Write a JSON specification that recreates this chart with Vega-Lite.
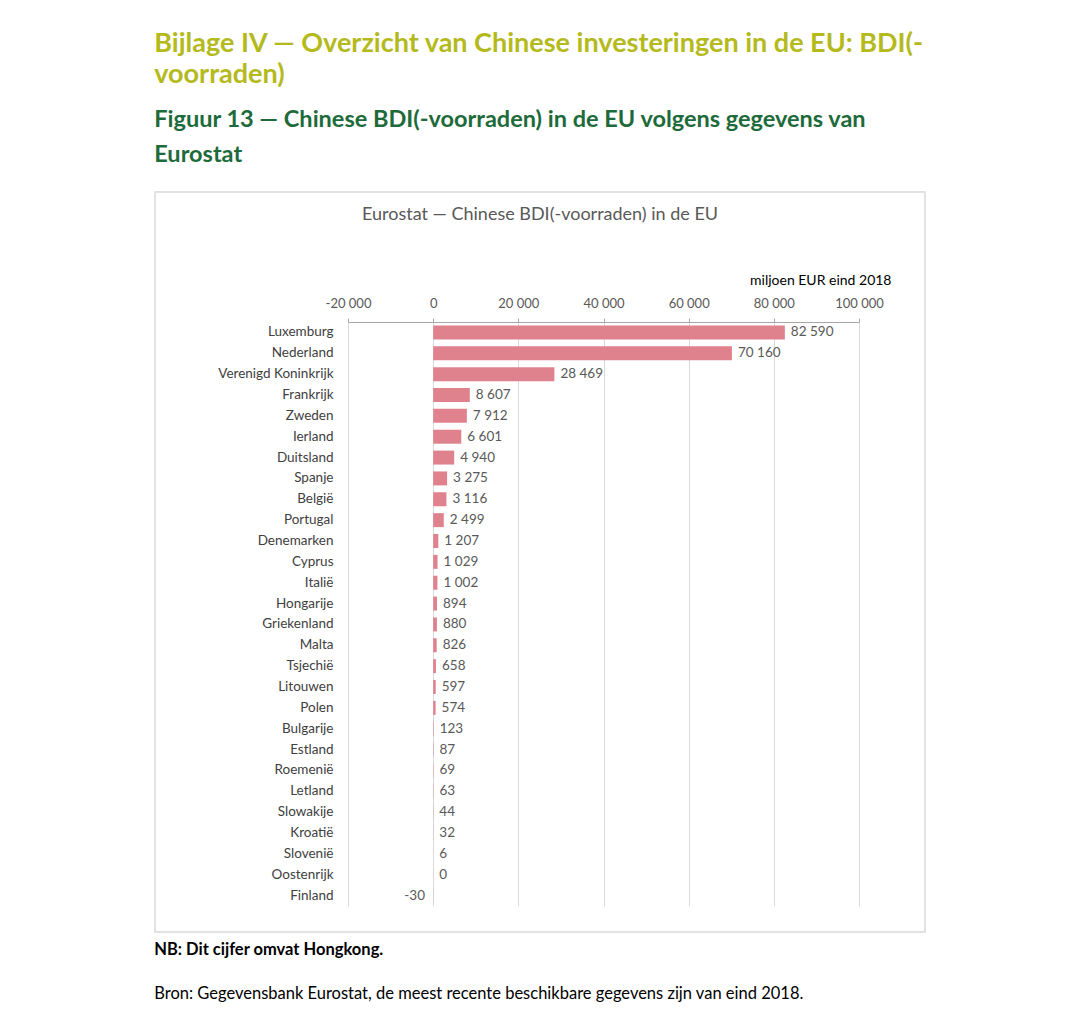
{
  "$schema": "https://vega.github.io/schema/vega-lite/v6.json",
  "padding": {"left": 154, "top": 29, "right": 0, "bottom": 0},
  "background": "white",
  "config": {
    "font": "Lato",
    "locale": {"number": {"decimal": ",", "thousands": " ", "grouping": [3], "currency": ["", " €"], "minus": "-"}},
    "concat": {"spacing": 0}
  },
  "title": {
    "text": ["Bijlage IV — Overzicht van Chinese investeringen in de EU: BDI(-", "voorraden)"],
    "subtitle": ["Figuur 13 — Chinese BDI(-voorraden) in de EU volgens gegevens van", "Eurostat"],
    "anchor": "start",
    "font": "Lato",
    "fontSize": 27,
    "fontWeight": "bold",
    "lineHeight": 31,
    "color": "#b4ba1c",
    "subtitleFont": "Lato",
    "subtitleFontSize": 23.5,
    "subtitleFontWeight": "bold",
    "subtitleLineHeight": 35,
    "subtitleColor": "#1d6a3a",
    "subtitlePadding": 19,
    "offset": 24
  },
  "vconcat": [
    {
      "title": {
        "text": "NB: Dit cijfer omvat Hongkong.",
        "subtitle": "Bron: Gegevensbank Eurostat, de meest recente beschikbare gegevens zijn van eind 2018.",
        "orient": "bottom",
        "anchor": "start",
        "font": "Lato",
        "fontSize": 16.5,
        "fontWeight": "bold",
        "color": "#000000",
        "subtitleFont": "Lato",
        "subtitleFontSize": 16.5,
        "subtitleColor": "#000000",
        "subtitlePadding": 28,
        "offset": 9
      },
      "vconcat": [
        {
          "width": 770,
          "height": 740,
          "view": {"stroke": "#d9d9d9", "strokeWidth": 1.5},
          "title": {
            "text": "Eurostat — Chinese BDI(-voorraden) in de EU",
            "anchor": "middle",
            "font": "Lato",
            "fontSize": 18,
            "fontWeight": "normal",
            "color": "#595959",
            "baseline": "alphabetic",
            "offset": -46
          },
          "data": {
            "values": [
              {"land": "Luxemburg", "waarde": 82590},
              {"land": "Nederland", "waarde": 70160},
              {"land": "Verenigd Koninkrijk", "waarde": 28469},
              {"land": "Frankrijk", "waarde": 8607},
              {"land": "Zweden", "waarde": 7912},
              {"land": "Ierland", "waarde": 6601},
              {"land": "Duitsland", "waarde": 4940},
              {"land": "Spanje", "waarde": 3275},
              {"land": "België", "waarde": 3116},
              {"land": "Portugal", "waarde": 2499},
              {"land": "Denemarken", "waarde": 1207},
              {"land": "Cyprus", "waarde": 1029},
              {"land": "Italië", "waarde": 1002},
              {"land": "Hongarije", "waarde": 894},
              {"land": "Griekenland", "waarde": 880},
              {"land": "Malta", "waarde": 826},
              {"land": "Tsjechië", "waarde": 658},
              {"land": "Litouwen", "waarde": 597},
              {"land": "Polen", "waarde": 574},
              {"land": "Bulgarije", "waarde": 123},
              {"land": "Estland", "waarde": 87},
              {"land": "Roemenië", "waarde": 69},
              {"land": "Letland", "waarde": 63},
              {"land": "Slowakije", "waarde": 44},
              {"land": "Kroatië", "waarde": 32},
              {"land": "Slovenië", "waarde": 6},
              {"land": "Oostenrijk", "waarde": 0},
              {"land": "Finland", "waarde": -30}
            ]
          },
          "encoding": {
            "y": {
              "field": "land",
              "type": "nominal",
              "sort": null,
              "scale": {"range": [130, 714], "paddingInner": 0.33, "paddingOuter": 0.165},
              "axis": {
                "orient": "left",
                "offset": -193,
                "title": null,
                "domain": false,
                "ticks": false,
                "grid": false,
                "labelPadding": 15,
                "labelFont": "Lato",
                "labelFontSize": 13.5,
                "labelColor": "#404040"
              }
            },
            "x": {
              "field": "waarde",
              "type": "quantitative",
              "scale": {"domain": [-20000, 100000], "range": [193, 704], "nice": false, "zero": false},
              "axis": {
                "orient": "top",
                "offset": -130,
                "values": [-20000, 0, 20000, 40000, 60000, 80000, 100000],
                "format": ",.0f",
                "labelFlush": false,
                "labelOverlap": false,
                "title": "miljoen EUR eind 2018",
                "titleFont": "Lato",
                "titleFontSize": 14,
                "titleFontWeight": "normal",
                "titleColor": "#000000",
                "titleAlign": "right",
                "titleBaseline": "alphabetic",
                "titleX": 736,
                "titleY": -38,
                "labelFont": "Lato",
                "labelFontSize": 13,
                "labelColor": "#595959",
                "labelPadding": 8,
                "tickSize": 4,
                "tickColor": "#a6a6a6",
                "domainColor": "#a6a6a6",
                "grid": true,
                "gridColor": "#d9d9d9"
              }
            }
          },
          "layer": [
            {"mark": {"type": "bar", "color": "#e0828e"}},
            {
              "transform": [{"filter": "datum.waarde >= 0"}],
              "mark": {"type": "text", "align": "left", "baseline": "middle", "dx": 6, "font": "Lato", "fontSize": 13.5, "color": "#595959"},
              "encoding": {"text": {"field": "waarde", "type": "quantitative", "format": ",.0f"}}
            },
            {
              "transform": [{"filter": "datum.waarde < 0"}],
              "mark": {"type": "text", "align": "right", "baseline": "middle", "dx": -8, "font": "Lato", "fontSize": 13.5, "color": "#595959"},
              "encoding": {"text": {"field": "waarde", "type": "quantitative", "format": ",.0f"}}
            }
          ]
        }
      ]
    }
  ]
}
